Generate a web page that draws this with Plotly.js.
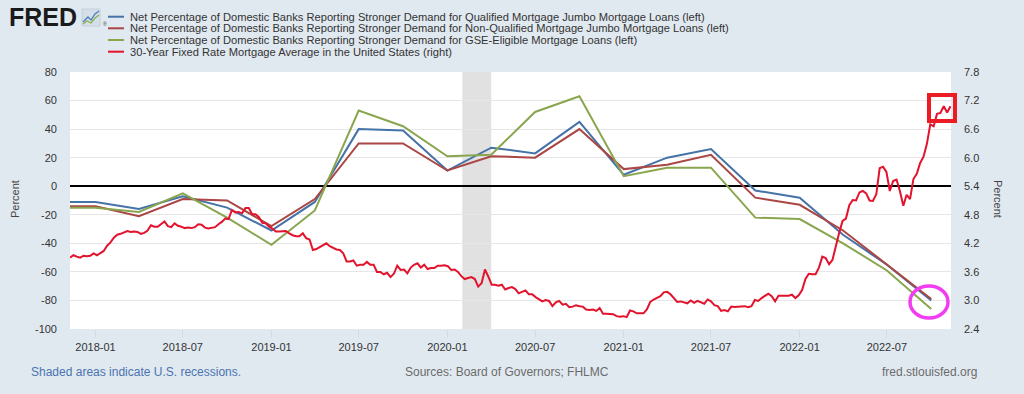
<!DOCTYPE html>
<html>
<head>
<meta charset="utf-8">
<script src="https://cdn.plot.ly/plotly-3.0.1.min.js"></script>
<style>
  html, body { margin: 0; padding: 0; background: #e1e9f0; }
  #chart { width: 1024px; height: 394px; }
</style>
</head>
<body>
<div id="chart"></div>
<script>
// ---- Data ----
const quarterDates = ['2017-10-01','2018-01-01','2018-04-01','2018-07-01','2018-10-01','2019-01-01','2019-04-01',
  '2019-07-01','2019-10-01','2020-01-01','2020-04-01','2020-07-01','2020-10-01','2021-01-01','2021-04-01',
  '2021-07-01','2021-10-01','2022-01-01','2022-04-01','2022-07-01','2022-10-01'];

const qualifiedJumbo    = [-11, -11, -16, -7, -15, -31, -11, 40, 39, 11, 27, 23, 45, 8, 20, 26, -3, -8, -34, -55, -80];
const nonQualifiedJumbo = [-14, -14, -21, -9, -10, -28, -9, 30, 30, 11, 21, 20, 40, 12, 15, 22, -8, -13, -31, -55, -79];
const gseEligible       = [-15, -15, -18, -5, -22, -41, -17, 53, 42, 21, 22, 52, 63, 7, 13, 13, -22, -23, -40, -59, -86];

// weekly 30-year fixed mortgage rate (Thursdays), first week 2017-11-09
const mortgageStart = '2017-11-09';
const mortgage2017 = [3.90, 3.95, 3.92, 3.90, 3.94, 3.93, 3.94, 3.99];
const mortgage2018 = [3.95, 3.99, 4.04, 4.15, 4.22, 4.32, 4.38, 4.40, 4.43, 4.46, 4.44, 4.45, 4.44,
  4.40, 4.42, 4.47, 4.58, 4.55, 4.55, 4.61, 4.66, 4.56, 4.54, 4.62, 4.57, 4.55, 4.52, 4.53, 4.52, 4.54,
  4.60, 4.59, 4.53, 4.51, 4.52, 4.54, 4.60, 4.65, 4.72, 4.71, 4.90, 4.85, 4.86, 4.83, 4.94, 4.94, 4.81,
  4.81, 4.75, 4.63, 4.62, 4.55];
const mortgage2019 = [4.51, 4.45, 4.45, 4.45, 4.46, 4.41, 4.37, 4.35, 4.35, 4.41, 4.31, 4.28, 4.06,
  4.08, 4.12, 4.17, 4.20, 4.14, 4.10, 4.07, 4.06, 3.99, 3.82, 3.82, 3.84, 3.73, 3.75, 3.75, 3.81, 3.75,
  3.75, 3.60, 3.60, 3.55, 3.58, 3.49, 3.56, 3.73, 3.64, 3.65, 3.57, 3.69, 3.75, 3.78, 3.69, 3.75, 3.66,
  3.68, 3.68, 3.73, 3.73, 3.74];
const mortgage2020 = [3.72, 3.64, 3.65, 3.60, 3.51, 3.45, 3.47, 3.49, 3.45, 3.29, 3.36, 3.65, 3.50,
  3.33, 3.33, 3.31, 3.33, 3.23, 3.26, 3.28, 3.24, 3.15, 3.18, 3.21, 3.13, 3.13, 3.07, 3.03, 2.98, 3.01,
  2.99, 2.88, 2.96, 2.99, 2.91, 2.93, 2.86, 2.87, 2.90, 2.88, 2.87, 2.81, 2.80, 2.81, 2.78, 2.84, 2.72,
  2.72, 2.71, 2.71, 2.67, 2.66, 2.67];
const mortgage2021 = [2.65, 2.79, 2.77, 2.73, 2.73, 2.73, 2.81, 2.97, 3.02, 3.05, 3.09, 3.17,
  3.18, 3.13, 3.04, 2.97, 2.98, 2.96, 2.94, 3.00, 2.95, 2.99, 2.96, 2.93, 3.02, 2.98, 2.90, 2.88, 2.78,
  2.80, 2.77, 2.87, 2.86, 2.87, 2.87, 2.88, 2.86, 2.88, 3.01, 2.99, 3.05, 3.09, 3.14, 3.09, 2.98, 3.10,
  3.10, 3.11, 3.10, 3.12, 3.05, 3.11];
const mortgage2022 = [3.22, 3.45, 3.56, 3.55, 3.55, 3.69, 3.92, 3.89, 3.76, 3.85, 4.16, 4.42, 4.67,
  4.72, 5.00, 5.11, 5.10, 5.27, 5.30, 5.25, 5.10, 5.09, 5.23, 5.78, 5.81, 5.70, 5.30, 5.51, 5.54, 5.30,
  4.99, 5.22, 5.13, 5.55, 5.66, 5.89, 6.02, 6.29, 6.70, 6.66, 6.92, 6.94, 7.08, 6.95, 7.08];

const seriesNames = [
  'Net Percentage of Domestic Banks Reporting Stronger Demand for Qualified Mortgage Jumbo Mortgage Loans (left)',
  'Net Percentage of Domestic Banks Reporting Stronger Demand for Non-Qualified Mortgage Jumbo Mortgage Loans (left)',
  'Net Percentage of Domestic Banks Reporting Stronger Demand for GSE-Eligible Mortgage Loans (left)',
  '30-Year Fixed Rate Mortgage Average in the United States (right)'
];
const seriesColors = ['#4572a7', '#aa4643', '#89a54e', '#e3122d'];

const leftTicks = [-100, -80, -60, -40, -20, 0, 20, 40, 60, 80];
const rightTicks = [2.4, 3.0, 3.6, 4.2, 4.8, 5.4, 6.0, 6.6, 7.2, 7.8];
const recessionStart = '2020-02-01';
const recessionEnd = '2020-04-01';

// ---- Build ----
const mortgageRate = [].concat(mortgage2017, mortgage2018, mortgage2019, mortgage2020, mortgage2021, mortgage2022);
const t0 = Date.parse(mortgageStart + 'T00:00:00Z');
const mortgageDates = mortgageRate.map((_, i) => new Date(t0 + i * 7 * 86400000).toISOString().slice(0, 10));

const FONT = '"Liberation Sans", Arial, sans-serif';

const traces = [
  {x: quarterDates, y: qualifiedJumbo, type: 'scatter', mode: 'lines', line: {color: seriesColors[0], width: 2}, yaxis: 'y', name: seriesNames[0]},
  {x: quarterDates, y: nonQualifiedJumbo, type: 'scatter', mode: 'lines', line: {color: seriesColors[1], width: 2}, yaxis: 'y', name: seriesNames[1]},
  {x: quarterDates, y: gseEligible, type: 'scatter', mode: 'lines', line: {color: seriesColors[2], width: 2}, yaxis: 'y', name: seriesNames[2]},
  {x: mortgageDates, y: mortgageRate, type: 'scatter', mode: 'lines', line: {color: seriesColors[3], width: 2}, yaxis: 'y2', name: seriesNames[3]}
];

const L = 70, R = 951, T = 72, B = 329;
const W = R - L, H = B - T;
const px = x => (x - L) / W;
const py = y => (B - y) / H;

const legendY = [16.7, 28.3, 40, 51.7];

const shapes = [
  {type: 'rect', xref: 'x', yref: 'paper', x0: recessionStart, x1: recessionEnd, y0: 0, y1: 1,
   fillcolor: '#e1e1e1', line: {width: 0}, layer: 'below'},
  // FRED icon
  {type: 'rect', xref: 'paper', yref: 'paper', x0: px(82), x1: px(100), y0: py(26), y1: py(9),
   fillcolor: '#d5dfea', line: {color: '#c4d0dc', width: 1}},
  {type: 'path', xref: 'paper', yref: 'paper',
   path: `M ${px(83)},${py(22)} L ${px(88)},${py(17)} L ${px(91)},${py(20)} L ${px(95)},${py(14)} L ${px(99)},${py(11)}`,
   line: {color: '#4b7cb8', width: 1.3}},
  {type: 'path', xref: 'paper', yref: 'paper',
   path: `M ${px(83)},${py(24)} L ${px(87)},${py(21)} L ${px(91)},${py(23)} L ${px(95)},${py(18)} L ${px(99)},${py(15)}`,
   line: {color: '#8ab04c', width: 1.3}},
  // hand-drawn highlights
  {type: 'rect', xref: 'paper', yref: 'paper', x0: px(929), x1: px(955), y0: py(121), y1: py(95),
   line: {color: '#ec1c24', width: 4}, fillcolor: 'rgba(0,0,0,0)'},
  {type: 'circle', xref: 'paper', yref: 'paper', x0: px(910), x1: px(948), y0: py(318), y1: py(286),
   line: {color: '#f23cf2', width: 3.5}, fillcolor: 'rgba(0,0,0,0)'}
];
seriesColors.forEach((c, i) => {
  shapes.push({type: 'line', xref: 'paper', yref: 'paper', x0: px(108), x1: px(124),
    y0: py(legendY[i]), y1: py(legendY[i]), line: {color: c, width: 2}});
});

const annotations = [
  {xref: 'paper', yref: 'paper', x: px(7), y: py(17), xanchor: 'left', yanchor: 'middle', showarrow: false,
   text: '<b>FRED</b>', font: {family: FONT, size: 25, color: '#1a1a1a'}},
  {xref: 'paper', yref: 'paper', x: px(101), y: py(24), xanchor: 'left', yanchor: 'middle', showarrow: false,
   text: '®', font: {family: FONT, size: 5, color: '#333'}},
  {xref: 'paper', yref: 'paper', x: px(29), y: py(372), xanchor: 'left', yanchor: 'middle', showarrow: false,
   text: 'Shaded areas indicate U.S. recessions.', font: {family: FONT, size: 12, color: '#4a74b0'}},
  {xref: 'paper', yref: 'paper', x: px(403), y: py(372), xanchor: 'left', yanchor: 'middle', showarrow: false,
   text: 'Sources: Board of Governors; FHLMC', font: {family: FONT, size: 12, color: '#6b6b6b'}},
  {xref: 'paper', yref: 'paper', x: px(979), y: py(372), xanchor: 'right', yanchor: 'middle', showarrow: false,
   text: 'fred.stlouisfed.org', font: {family: FONT, size: 12, color: '#6b6b6b'}},
  {xref: 'paper', yref: 'paper', x: px(15), y: py(199), xanchor: 'center', yanchor: 'middle', showarrow: false,
   textangle: -90, text: 'Percent', font: {family: FONT, size: 11, color: '#444'}},
  {xref: 'paper', yref: 'paper', x: px(998), y: py(199), xanchor: 'center', yanchor: 'middle', showarrow: false,
   textangle: 90, text: 'Percent', font: {family: FONT, size: 11, color: '#444'}}
];
seriesNames.forEach((n, i) => {
  annotations.push({xref: 'paper', yref: 'paper', x: px(128), y: py(legendY[i]), xanchor: 'left', yanchor: 'middle',
    showarrow: false, text: n, font: {family: FONT, size: 11.15, color: '#333'}});
});

const layout = {
  width: 1024, height: 394,
  margin: {l: L, r: 1024 - R, t: T, b: 394 - B, pad: 0},
  paper_bgcolor: '#e1e9f0',
  plot_bgcolor: '#ffffff',
  showlegend: false,
  font: {family: FONT, size: 11, color: '#333'},
  xaxis: {
    type: 'date', range: ['2017-11-09', '2022-11-11'],
    tick0: '2018-01-01', dtick: 'M6', tickformat: '%Y-%m',
    showgrid: false, zeroline: false, showline: false,
    ticks: 'outside', ticklen: 8, tickcolor: '#d3dbe4', tickwidth: 1,
    tickfont: {family: FONT, size: 11, color: '#333'}
  },
  yaxis: {
    range: [-100, 80], tickvals: leftTicks, ticktext: leftTicks.map(String),
    showgrid: true, gridcolor: '#e6e6e6', gridwidth: 1,
    zeroline: true, zerolinecolor: '#000000', zerolinewidth: 1.5,
    showline: false, ticks: '', ticklabelstandoff: 12,
    tickfont: {family: FONT, size: 11, color: '#333'}
  },
  yaxis2: {
    overlaying: 'y', side: 'right', range: [2.4, 7.8],
    tickvals: rightTicks, ticktext: rightTicks.map(v => v.toFixed(1)),
    showgrid: false, zeroline: false, showline: false, ticks: '', ticklabelstandoff: 12,
    tickfont: {family: FONT, size: 11, color: '#333'}
  },
  shapes: shapes,
  annotations: annotations
};

Plotly.newPlot('chart', traces, layout, {displayModeBar: false, staticPlot: true});
</script>
</body>
</html>
